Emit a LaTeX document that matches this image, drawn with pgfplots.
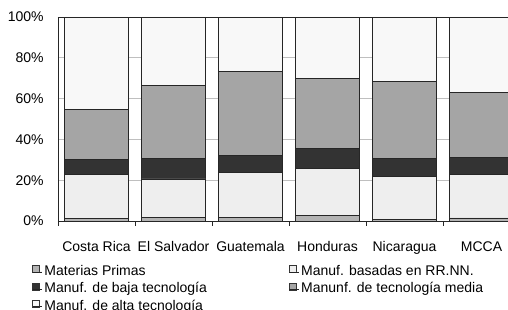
\documentclass[border=0pt]{standalone}
\usepackage{fontspec}
\setmainfont{Liberation Sans}
\usepackage{pgfplots}
\pgfplotsset{compat=1.18}
\definecolor{cMP}{HTML}{B3B3B3}
\definecolor{cRN}{HTML}{EEEEEE}
\definecolor{cBT}{HTML}{333333}
\definecolor{cMT}{HTML}{A5A5A5}
\definecolor{cAT}{HTML}{F8F8F8}
\begin{document}
\begin{tikzpicture}[font=\fontsize{14}{17}\selectfont]
\begin{axis}[
  at={(58pt,89pt)}, anchor=south west,
  scale only axis, width=450pt, height=204pt,
  ybar stacked, bar width=64pt,
  xmin=-0.5, xmax=5.344, ymin=0, ymax=100,
  clip=true,
  axis x line=box, axis y line*=left,
  axis line style={-, black!85, line width=0.8pt},
  xtick={0,...,5},
  xticklabels={Costa Rica,El Salvador,Guatemala,Honduras,Nicaragua,MCCA},
  minor xtick={-0.5,0.5,1.5,2.5,3.5,4.5},
  major x tick style={draw=none},
  minor x tick style={black!85, line width=0.8pt},
  minor tick length=5pt,
  tick align=outside,
  xtick pos=bottom,
  ytick={0,20,40,60,80,100},
  yticklabels={0\%,20\%,40\%,60\%,80\%,100\%},
  major y tick style={draw=none},
  ymajorgrids, grid style={black!25, line width=0.8pt},
  x tick label style={yshift=-13pt},
  y tick label style={xshift=-6.6pt},
  every axis plot/.append style={draw=black!85, line width=0.8pt},
  legend columns=2,
  legend cell align=left,
  legend image code/.code={\draw[#1, line width=0.6pt, draw=black!80] (0pt,-0.5pt) rectangle (7pt,6.5pt); \path (0pt,0pt) -- (9.5pt,0pt);},
  legend style={at={(axis description cs:-0.0578,-0.2059)}, anchor=north west,
    draw=none, fill=none, inner sep=0pt, row sep=0pt,
    nodes={inner xsep=2pt, inner ysep=1pt, text height=11pt, text depth=4.4pt},
    /tikz/every even column/.append style={column sep=80pt}},
]
\addplot[fill=cMP] coordinates {(0,1.3) (1,1.8) (2,1.6) (3,2.6) (4,0.7) (5,1.5)};
\addplot[fill=cRN] coordinates {(0,21.4) (1,18.8) (2,22.2) (3,23.2) (4,21.2) (5,21.3)};
\addplot[fill=cBT] coordinates {(0,7.5) (1,10.1) (2,8.3) (3,9.6) (4,8.9) (5,8.5)};
\addplot[fill=cMT] coordinates {(0,24.4) (1,35.7) (2,41.0) (3,34.4) (4,37.7) (5,31.8)};
\addplot[fill=cAT] coordinates {(0,45.4) (1,33.6) (2,26.9) (3,30.2) (4,31.5) (5,36.9)};
\legend{Materias Primas,Manuf. basadas en RR.NN.,Manuf. de baja tecnología,Manunf. de tecnología media,Manuf. de alta tecnología}
\end{axis}
\pgfresetboundingbox
\path (0pt,0pt) rectangle (508pt,310pt);
\end{tikzpicture}
\end{document}
